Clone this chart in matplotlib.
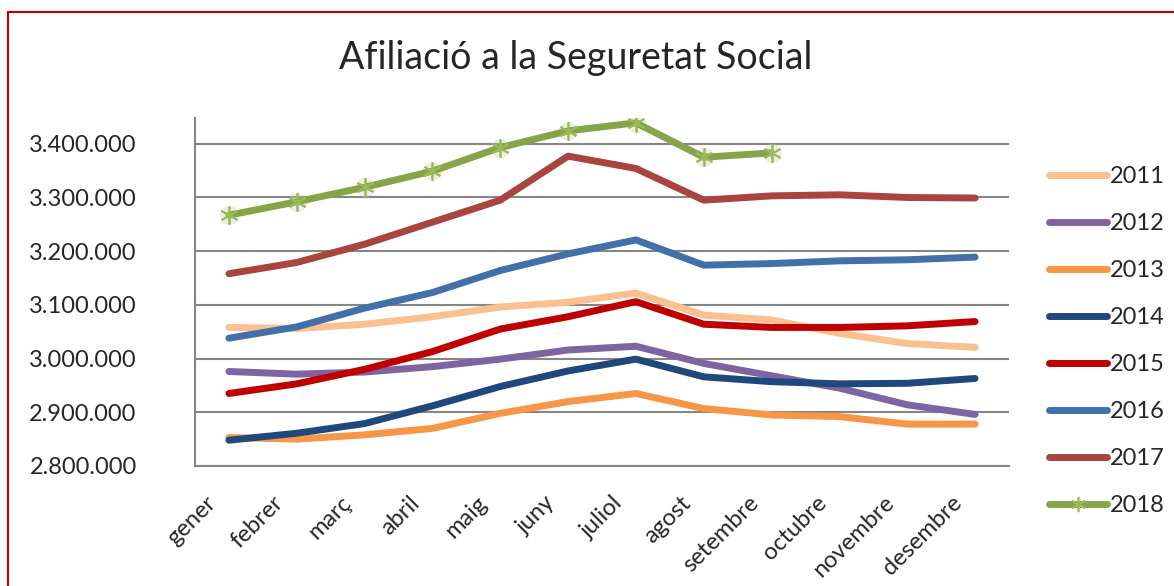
"""
Afiliació a la Seguretat Social - line chart per year
"""

import matplotlib.pyplot as plt
import matplotlib.ticker as mticker
import matplotlib.transforms as mtransforms
from matplotlib.patches import Rectangle
from matplotlib.lines import Line2D

plt.rcParams['font.family'] = ['Lato', 'DejaVu Sans']

months = ['gener', 'febrer', 'març', 'abril', 'maig', 'juny', 'juliol',
          'agost', 'setembre', 'octubre', 'novembre', 'desembre']

years = ['2011', '2012', '2013', '2014', '2015', '2016', '2017', '2018']

y2011 = [3058000, 3056000, 3064000, 3078000, 3096000, 3105000, 3122000,
         3081000, 3072000, 3047000, 3028000, 3021000]
y2012 = [2976000, 2971000, 2975000, 2985000, 2999000, 3016000, 3023000,
         2991000, 2968000, 2945000, 2914000, 2896000]
y2013 = [2853000, 2850000, 2858000, 2870000, 2898000, 2920000, 2935000,
         2907000, 2895000, 2892000, 2878000, 2878000]
y2014 = [2848000, 2861000, 2879000, 2912000, 2948000, 2977000, 2999000,
         2966000, 2957000, 2953000, 2954000, 2963000]
y2015 = [2935000, 2953000, 2980000, 3013000, 3055000, 3078000, 3106000,
         3064000, 3058000, 3058000, 3061000, 3069000]
y2016 = [3038000, 3059000, 3094000, 3123000, 3164000, 3195000, 3221000,
         3174000, 3177000, 3182000, 3184000, 3189000]
y2017 = [3158000, 3179000, 3213000, 3254000, 3295000, 3377000, 3354000,
         3295000, 3303000, 3305000, 3300000, 3299000]
y2018 = [3267000, 3292000, 3319000, 3349000, 3393000, 3424000, 3439000,
         3375000, 3383000]

series = [y2011, y2012, y2013, y2014, y2015, y2016, y2017, y2018]
colors = ['#FAC090', '#8064A2', '#F79646', '#1F497D', '#C00000',
          '#4370A8', '#A9443F', '#87A548']

fig = plt.figure(figsize=(11.74, 5.86), dpi=100)
ax = fig.add_axes([195 / 1174, 1 - 466 / 586, (1009 - 195) / 1174, (466 - 118) / 586])

x = list(range(len(months)))
handles = []
for yr, vals, c in zip(years, series, colors):
    ax.plot(x[:len(vals)], vals, color=c, lw=5, solid_capstyle='round',
            solid_joinstyle='round', zorder=3)
    if yr == '2018':
        # soft shadow under the star markers
        ax.plot(x[:len(vals)], vals, ls='none', marker='o', ms=14,
                color='#C9D6B0', alpha=0.35, mew=0, zorder=2)
        ax.plot(x[:len(vals)], vals, ls='none', marker=(6, 2, 0), ms=13,
                mec='#9BBB59', mew=1.3, zorder=4)
        h = Line2D([], [], color=c, lw=5, solid_capstyle='round',
                   marker=(6, 2, 0), ms=11, mec='#9BBB59', mew=1.2)
    else:
        h = Line2D([], [], color=c, lw=5, solid_capstyle='round')
    handles.append(h)

ax.set_xlim(-0.5, 11.5)
ax.set_ylim(2800000, 3448000)
ax.set_yticks([2800000, 2900000, 3000000, 3100000, 3200000, 3300000, 3400000])
ax.yaxis.set_major_formatter(mticker.FuncFormatter(
    lambda v, p: f'{int(v):,}'.replace(',', '.')))
ax.grid(axis='y', color='#868686', lw=1.5, zorder=0)
ax.set_axisbelow(True)
for s in ['top', 'right']:
    ax.spines[s].set_visible(False)
for s in ['left', 'bottom']:
    ax.spines[s].set_color('#868686')
    ax.spines[s].set_linewidth(1.5)
ax.tick_params(axis='both', length=0, labelsize=17, colors='#262626')
ax.tick_params(axis='y', pad=42)
ax.set_xticks(x)
ax.set_xticklabels(months, rotation=45, ha='right', va='top',
                   rotation_mode='anchor', fontsize=17)
ax.tick_params(axis='x', pad=16)
shift = mtransforms.ScaledTranslation(-24 / 100, -4 / 100, fig.dpi_scale_trans)
for lab in ax.get_xticklabels():
    lab.set_transform(lab.get_transform() + shift)

fig.text(576 / 1174, 1 - 58 / 586, 'Afiliació a la Seguretat Social',
         ha='center', va='center', fontsize=27, color='#262626')

fig.legend(handles, years, loc='upper left', frameon=False,
           bbox_to_anchor=(1028 / 1174, 1 - 145 / 586), fontsize=17,
           handlelength=2.45, handletextpad=0.1, labelspacing=1.1,
           labelcolor='#262626')

# red frame around the chart area
fig.patches.append(Rectangle((8 / 1174, -0.1), 1.2, 1 - 12 / 586 + 0.1,
                             transform=fig.transFigure, fill=False,
                             edgecolor='#C00000', lw=1.5))

plt.savefig('out.png', dpi=100)
